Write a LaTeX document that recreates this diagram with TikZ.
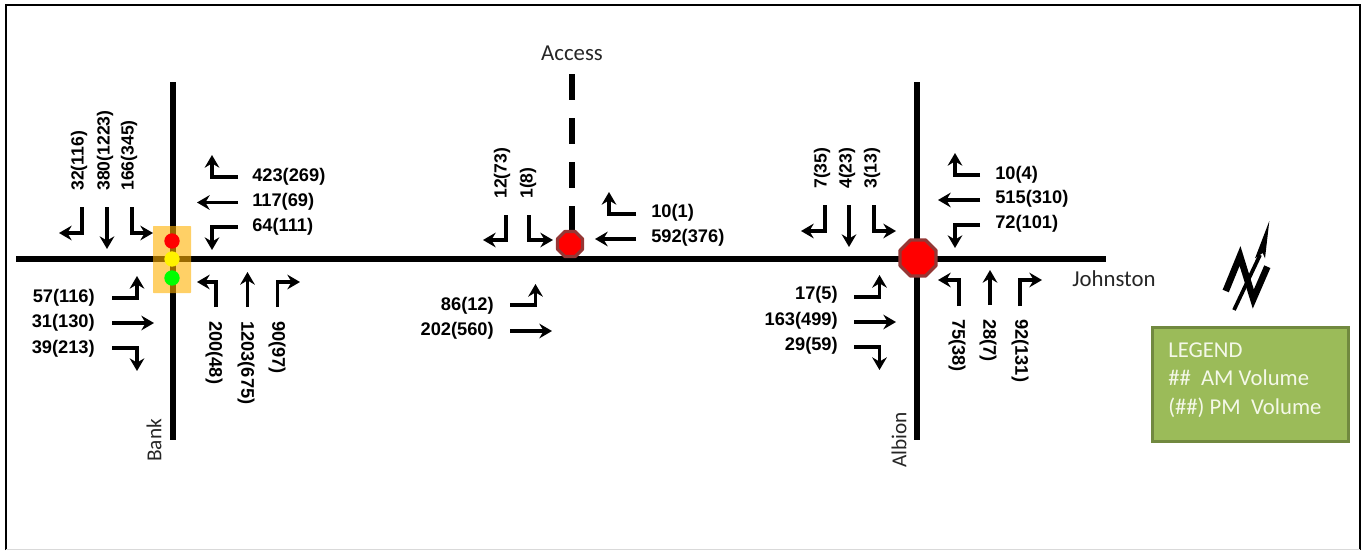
\documentclass[tikz,border=0pt]{standalone}
\usepackage{fontspec}
\setmainfont{Liberation Sans}
\newfontfamily\calfont{Carlito}
\usetikzlibrary{arrows.meta}
\definecolor{legendfill}{HTML}{9BBB59}
\definecolor{legendedge}{HTML}{71893F}
\definecolor{stopedge}{HTML}{953735}
\definecolor{legendtext}{HTML}{F4F8E8}
\definecolor{signalbox}{HTML}{FFB000}
\tikzset{
  road/.style={line width=4.5pt},
  mv/.style={line width=2.4pt,-{Stealth[length=9.5pt,width=11pt,inset=3.2pt]}},
  vol/.style={font=\bfseries\fontsize{13.7}{15}\selectfont,inner sep=0pt,text=black},
  vup/.style={vol,font=\bfseries\fontsize{13.2}{15}\selectfont,rotate=90,anchor=west},
  vdn/.style={vol,rotate=-90,anchor=west},
  vr/.style={vol,anchor=west,yshift=-1.1pt},
  vl/.style={vol,anchor=east,yshift=-1.1pt},
  street/.style={font=\calfont\fontsize{17.1}{20}\selectfont,inner sep=0pt,text=black!85},
  vstreet/.style={font=\calfont\fontsize{16}{20}\selectfont,inner sep=0pt,text=black!85,rotate=90,anchor=west},
  stopsign/.style={fill=red,draw=stopedge,line width=2.5pt,line join=round},
  lamp/.style={circle,inner sep=0pt,minimum size=11.5pt}
}
\begin{document}
\begin{tikzpicture}[x=0.75pt,y=-0.75pt]
\useasboundingbox (0,0) rectangle (1362,550);
\draw[line width=1.5pt] (6,550) -- (6,5) -- (1360,5) -- (1360,550);
\draw[line width=1pt,black!15] (6,549.5) -- (1360,549.5);
% roads
\coordinate (jw) at (16,259); \coordinate (je) at (1106,259);
\coordinate (bn) at (173,82); \coordinate (bs) at (173,440);
\coordinate (an) at (571.5,74); \coordinate (as) at (571.5,240);
\coordinate (on) at (917,82); \coordinate (os) at (917,440);
\draw[road] (jw) -- (je);
\draw[road] (bn) -- (bs);
\draw[road] (on) -- (os);
\draw[road,dash pattern=on 19.5pt off 13.5pt] (an) -- (as);
% signal
\fill[signalbox,opacity=.6,rounded corners=0.5pt] (153,226) rectangle (191,293);
\node[lamp,fill=red] (sr) at (172,241) {};
\node[lamp,fill=yellow] (sy) at (172,259) {};
\node[lamp,fill=green] (sg) at (172,278) {};
% stop signs
\draw[stopsign] (570,244) +(22.5:13.5) -- +(67.5:13.5) -- +(112.5:13.5) -- +(157.5:13.5) -- +(202.5:13.5) -- +(247.5:13.5) -- +(292.5:13.5) -- +(337.5:13.5) -- cycle;
\draw[stopsign] (918,258) +(22.5:19.5) -- +(67.5:19.5) -- +(112.5:19.5) -- +(157.5:19.5) -- +(202.5:19.5) -- +(247.5:19.5) -- +(292.5:19.5) -- +(337.5:19.5) -- cycle;
% Bank arrows
\draw[mv] (82,207) |- (59,233);
\draw[mv] (107,207) -- (107,249);
\draw[mv] (132,207) |- (153,233);
\draw[mv] (238,177) -| (212,155);
\draw[mv] (238,202.5) -- (197,202.5);
\draw[mv] (238,227) -| (212,250);
\draw[mv] (112,298) -| (137,276);
\draw[mv] (112,323) -- (154,323);
\draw[mv] (112,348) -| (137,371);
\draw[mv] (216,307) |- (197,282);
\draw[mv] (247.5,307) -- (247.5,272);
\draw[mv] (277.5,307) |- (300,282);
\node[vup] (b1) at (79,191) {32(116)};
\node[vup] (b2) at (105,191) {380(1223)};
\node[vup] (b3) at (129,191) {166(345)};
\node[vr] (b4) at (252,175) {423(269)};
\node[vr] (b5) at (252,200) {117(69)};
\node[vr] (b6) at (252,225.5) {64(111)};
\node[vl] (b7) at (95,296.5) {57(116)};
\node[vl] (b8) at (95,321.5) {31(130)};
\node[vl] (b9) at (95,347) {39(213)};
\node[vdn] (b10) at (214,321) {200(48)};
\node[vdn] (b11) at (246,321) {1203(675)};
\node[vdn] (b12) at (277,321) {90(97)};
% Access arrows
\draw[mv] (506,215) |- (483,240);
\draw[mv] (529,215) |- (553,240);
\draw[mv] (636,214) -| (609,192);
\draw[mv] (636,239) -- (595,239);
\draw[mv] (510,305) -| (535.5,284);
\draw[mv] (510,331) -- (552,331);
\node[vup] (a1) at (502,199) {12(73)};
\node[vup] (a2) at (528,199) {1(8)};
\node[vr] (a3) at (651,211.5) {10(1)};
\node[vr] (a4) at (651,236.5) {592(376)};
\node[vl] (a5) at (494,304.5) {86(12)};
\node[vl] (a6) at (494,329.5) {202(560)};
% Albion arrows
\draw[mv] (825,205) |- (801,231);
\draw[mv] (849,205) -- (849,247);
\draw[mv] (874,205) |- (896,231);
\draw[mv] (980,175) -| (955,153);
\draw[mv] (980,200) -- (938,200);
\draw[mv] (980,225) -| (955,248);
\draw[mv] (854,297) -| (879.5,275);
\draw[mv] (854,322) -- (896,322);
\draw[mv] (854,347) -| (879.5,370);
\draw[mv] (959,306) |- (938,280);
\draw[mv] (990,305) -- (990,270);
\draw[mv] (1020,306) |- (1042,280);
\node[vup] (o1) at (822,189) {7(35)};
\node[vup] (o2) at (847,189) {4(23)};
\node[vup] (o3) at (872,189) {3(13)};
\node[vr] (o4) at (995,173.5) {10(4)};
\node[vr] (o5) at (995,197.5) {515(310)};
\node[vr] (o6) at (995,222.5) {72(101)};
\node[vl] (o7) at (838,293.5) {17(5)};
\node[vl] (o8) at (838,319.5) {163(499)};
\node[vl] (o9) at (838,344.5) {29(59)};
\node[vdn] (o10) at (957,319) {75(38)};
\node[vdn] (o11) at (988,319) {28(7)};
\node[vdn] (o12) at (1020,319) {92(131)};
% street names
\node[street] (access) at (572,53) {Access};
\node[street,anchor=west] (johnston) at (1072,279) {Johnston};
\node[vstreet] (bank) at (154,462) {Bank};
\node[vstreet] (albion) at (899,468) {Albion};
% north arrow
\draw[line width=5pt,miter limit=10] (1225.7,291) -- (1240,256) -- (1253.3,299) -- (1267.3,266.7);
\draw[line width=2.8pt] (1234,310) -- (1260,255);
\fill (1269.3,221) -- (1265,258.3) -- (1262.7,253) -- (1255,258.3) -- cycle;
% legend
\node[draw=legendedge,fill=legendfill,line width=1.6pt,minimum width=147pt,minimum height=85.5pt,inner sep=0pt] (legend) at (1250.5,384.5) {};
\node[font=\calfont\fontsize{17}{21.3}\selectfont,text=legendtext,anchor=north west,align=left,inner sep=0pt] (legendtxt) at (1168,342.5) {LEGEND\\\#\#\ \ AM Volume\\(\#\#) PM\ \ Volume};
\end{tikzpicture}
\end{document}
